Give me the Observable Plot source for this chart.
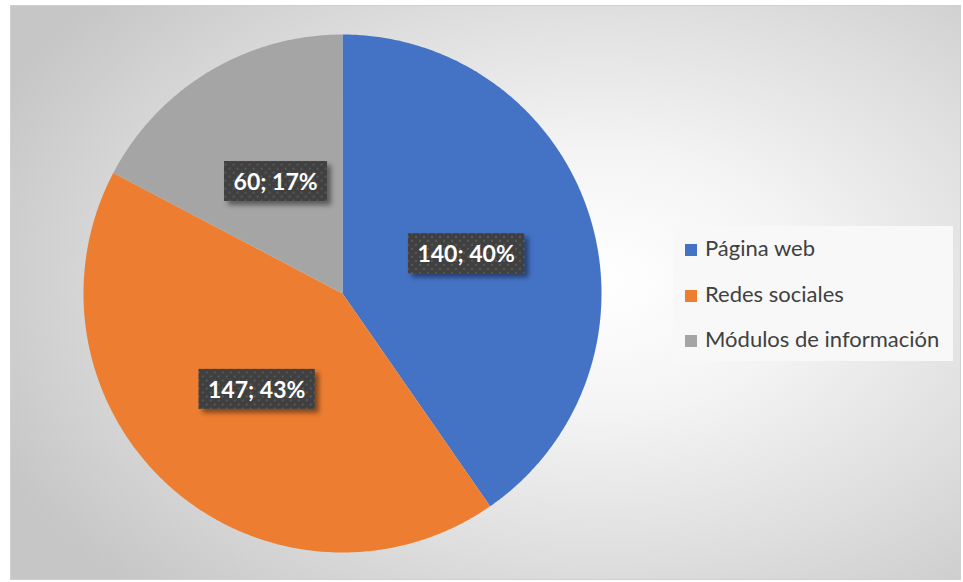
<!DOCTYPE html>
<html>
<head>
<meta charset="utf-8">
<script src="https://cdn.jsdelivr.net/npm/d3@7"></script>
<script src="https://cdn.jsdelivr.net/npm/@observablehq/plot@0.6"></script>
<style>
  html, body { margin: 0; padding: 0; background: #ffffff; }
  #wrap { position: relative; width: 963px; height: 582px; overflow: hidden; }
  #frame {
    position: absolute; left: 10px; top: 5px; width: 949px; height: 573px;
    border: 1px solid #d0d0d0;
    background: radial-gradient(ellipse 70% 75% at 62% 48%, #ffffff 0%, #f4f4f4 30%, #dedede 65%, #c6c6c6 100%);
  }
  #chart { position: absolute; left: 0; top: 0; }
  #legend {
    position: absolute; left: 673px; top: 226px; width: 280px; height: 135px;
    background: #f8f8f8; font-family: Lato, "Open Sans", sans-serif; font-size: 22px; color: #404040;
  }
  .item { position: absolute; left: 12px; height: 26px; line-height: 26px; white-space: nowrap; }
  .sw { display: inline-block; width: 12px; height: 12px; margin-right: 8px; vertical-align: 0px; }
</style>
</head>
<body>
<div id="wrap">
  <div id="frame"></div>
  <div id="chart"></div>
  <div id="legend"></div>
</div>
<script>
const categories = ["Página web", "Redes sociales", "Módulos de información"];
const values = [140, 147, 60];
const percentLabels = ["40%", "43%", "17%"];
const colors = ["#4472C4", "#ED7D31", "#A5A5A5"];

const total = d3.sum(values);
const slices = [];
let acc = 0;
categories.forEach((name, i) => {
  const a0 = acc / total * 2 * Math.PI;
  acc += values[i];
  const a1 = acc / total * 2 * Math.PI;
  slices.push({name, value: values[i], label: `${values[i]}; ${percentLabels[i]}`, a0, a1});
});

const polyPoints = [];
for (const s of slices) {
  polyPoints.push({name: s.name, x: 0, y: 0});
  const n = Math.max(2, Math.ceil((s.a1 - s.a0) / (Math.PI / 360)));
  for (let k = 0; k <= n; k++) {
    const a = s.a0 + (s.a1 - s.a0) * k / n;
    polyPoints.push({name: s.name, x: Math.sin(a), y: Math.cos(a)});
  }
  polyPoints.push({name: s.name, x: 0, y: 0});
}

const labelPoints = slices.map(s => {
  const m = (s.a0 + s.a1) / 2;
  return {name: s.name, label: s.label, x: 0.5 * Math.sin(m), y: 0.5 * Math.cos(m)};
});

const cx = 342, cy = 293, R = 259;
const plot = Plot.plot({
  width: 963, height: 582,
  margin: 0,
  style: {background: "transparent", overflow: "visible"},
  x: {domain: [-1, 1], range: [cx - R, cx + R], axis: null},
  y: {domain: [-1, 1], range: [cy + R, cy - R], axis: null},
  color: {domain: categories, range: colors},
  marks: [
    Plot.line(polyPoints, {x: "x", y: "y", z: "name", fill: "name", stroke: "none", curve: "linear"}),
    Plot.text(labelPoints, {x: "x", y: "y", text: "label", fill: "white", fontSize: 23, fontWeight: "bold",
      fontFamily: "Lato, 'Open Sans', sans-serif", textAnchor: "middle", dy: 0})
  ]
});
document.getElementById("chart").appendChild(plot);

// label boxes
const svgNS = "http://www.w3.org/2000/svg";
const defs = document.createElementNS(svgNS, "defs");
defs.innerHTML = `
  <pattern id="dots" width="8" height="8" patternUnits="userSpaceOnUse">
    <rect width="8" height="8" fill="#3f3f3f"/>
    <rect x="1" y="1" width="2" height="2" fill="#595959"/>
    <rect x="5" y="5" width="2" height="2" fill="#595959"/>
  </pattern>
  <filter id="shadow" x="-20%" y="-30%" width="150%" height="170%">
    <feDropShadow dx="4" dy="4" stdDeviation="2.5" flood-color="#000" flood-opacity="0.45"/>
  </filter>`;
plot.insertBefore(defs, plot.firstChild);
const textG = plot.querySelector('g[aria-label="text"]');
textG.querySelectorAll("text").forEach(t => {
  const b = t.getBBox();
  const tr = t.getAttribute("transform");
  const r = document.createElementNS(svgNS, "rect");
  const midY = b.y + b.height / 2;
  r.setAttribute("x", b.x - 9.5);
  r.setAttribute("y", midY - 20);
  r.setAttribute("width", b.width + 19);
  r.setAttribute("height", 40);
  r.setAttribute("fill", "url(#dots)");
  r.setAttribute("filter", "url(#shadow)");
  if (tr) r.setAttribute("transform", tr);
  textG.insertBefore(r, t);
});

// legend
const leg = document.getElementById("legend");
categories.forEach((c, i) => {
  const d = document.createElement("div");
  d.className = "item";
  d.style.top = (9 + i * 45.5) + "px";
  d.innerHTML = `<span class="sw" style="background:${colors[i]}"></span>${c}`;
  leg.appendChild(d);
});
</script>
</body>
</html>
